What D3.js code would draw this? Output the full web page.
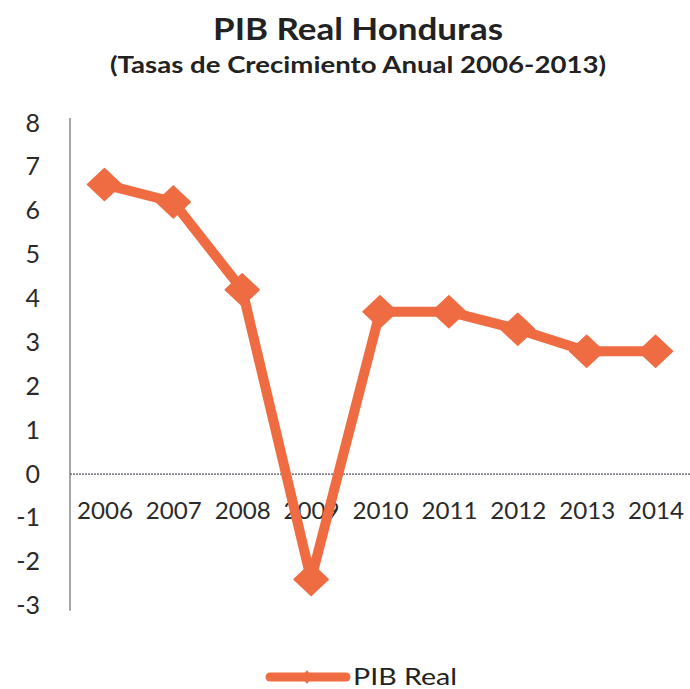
<!DOCTYPE html>
<html>
<head>
<meta charset="utf-8">
<script src="https://cdn.jsdelivr.net/npm/d3@7"></script>
<style>
  html, body { margin: 0; padding: 0; background: #fff; }
  svg { display: block; }
</style>
</head>
<body>
<svg id="chart" width="690" height="689"></svg>
<script>
const years = ["2006","2007","2008","2009","2010","2011","2012","2013","2014"];
const pibReal = [6.6, 6.2, 4.2, -2.4, 3.7, 3.7, 3.3, 2.8, 2.8];
const yTicks = [8,7,6,5,4,3,2,1,0,-1,-2,-3];
const titleText = "PIB Real Honduras";
const subtitleText = "(Tasas de Crecimiento Anual 2006-2013)";
const seriesName = "PIB Real";

const svg = d3.select("#chart");
const font = "Lato, 'Open Sans', sans-serif";
const orange = "#ef6c42";
const textCol = "#2a2a2a";

const x = d3.scalePoint().domain(years).range([70, 690]).padding(0.5);
const y = d3.scaleLinear().domain([-3, 8]).range([605.7, 123]);

// title
svg.append("text").attr("x", 213).attr("y", 40)
  .attr("font-family", font).attr("font-weight", 700).attr("font-size", 30)
  .attr("textLength", 290).attr("lengthAdjust", "spacingAndGlyphs")
  .attr("fill", "#222").text(titleText);
svg.append("text").attr("x", 110).attr("y", 73)
  .attr("font-family", font).attr("font-weight", 700).attr("font-size", 22)
  .attr("textLength", 496).attr("lengthAdjust", "spacingAndGlyphs")
  .attr("fill", "#222").text(subtitleText);

// y axis
const yAxis = d3.axisLeft(y).tickValues(yTicks).tickSize(0).tickPadding(30).tickFormat(d => String(d));
const gy = svg.append("g").attr("transform", "translate(70,0)").call(yAxis);
gy.select(".domain").remove();
gy.selectAll("text").attr("font-family", font).attr("font-size", 25).attr("fill", textCol);
svg.append("line").attr("x1", 70).attr("x2", 70).attr("y1", y(8) - 5).attr("y2", y(-3) + 5)
  .attr("stroke", "#777").attr("stroke-width", 1.3);

// zero line / x axis
const xAxis = d3.axisBottom(x).tickSize(0).tickPadding(28);
const gx = svg.append("g").attr("transform", `translate(0,${y(0)})`).call(xAxis);
gx.select(".domain").attr("d", `M70,0H690`).attr("stroke", "#556").attr("stroke-width", 1.2)
  .attr("stroke-dasharray", "2,1");
gx.selectAll("text").attr("font-family", font).attr("font-size", 24).attr("fill", textCol)
  .attr("textLength", 56).attr("lengthAdjust", "spacingAndGlyphs");

// line
const line = d3.line().x((d, i) => x(years[i])).y(d => y(d));
svg.append("path").datum(pibReal).attr("d", line).attr("fill", "none")
  .attr("stroke", orange).attr("stroke-width", 10).attr("stroke-linejoin", "round");

const diamond = (cx, cy, rx, ry) => `M${cx - rx},${cy}L${cx},${cy - ry}L${cx + rx},${cy}L${cx},${cy + ry}Z`;
svg.append("g").selectAll("path").data(pibReal).join("path")
  .attr("d", (d, i) => diamond(x(years[i]), y(d), 17, 16))
  .attr("fill", orange).attr("stroke", orange).attr("stroke-width", 1.5).attr("stroke-linejoin", "round");

// legend
const lg = svg.append("g");
lg.append("line").attr("x1", 270).attr("x2", 346).attr("y1", 677).attr("y2", 677)
  .attr("stroke", orange).attr("stroke-width", 9).attr("stroke-linecap", "round");
lg.append("path").attr("d", diamond(307, 677, 5, 7)).attr("fill", orange);
lg.append("text").attr("x", 353).attr("y", 685).attr("font-family", font)
  .attr("font-size", 24).attr("fill", "#222")
  .attr("textLength", 104).attr("lengthAdjust", "spacingAndGlyphs").text(seriesName);
</script>
</body>
</html>
